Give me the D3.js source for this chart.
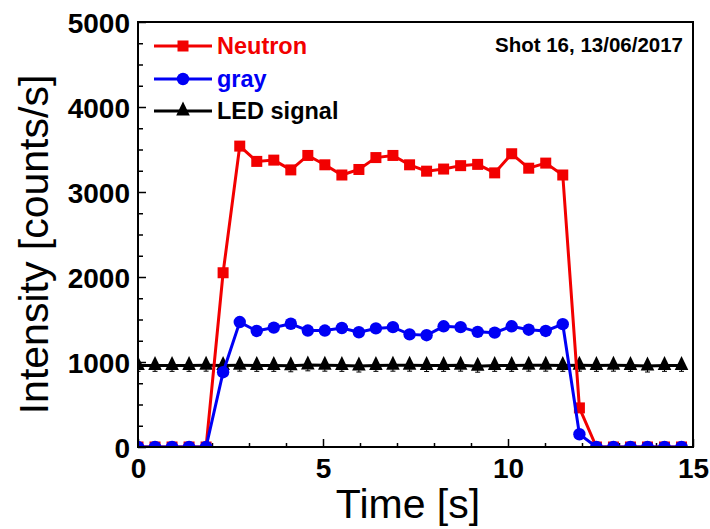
<!DOCTYPE html>
<html>
<head>
<meta charset="utf-8">
<script src="https://cdn.jsdelivr.net/npm/d3@7"></script>
<style>
  html, body { margin: 0; padding: 0; background: #fff; }
  svg { display: block; }
</style>
</head>
<body>
<div id="chart"></div>
<script>
// ---------------- data ----------------
const times = [0, 0.46, 0.92, 1.38, 1.84, 2.30, 2.75, 3.21, 3.67, 4.13, 4.59, 5.05, 5.51,
  5.97, 6.43, 6.89, 7.34, 7.80, 8.26, 8.72, 9.18, 9.64, 10.10, 10.56, 11.02, 11.48,
  11.93, 12.39, 12.85, 13.31, 13.77, 14.23, 14.69];
const neutron = [0, 0, 0, 0, 0, 2050, 3540, 3360, 3375, 3260, 3430, 3320, 3200,
  3265, 3405, 3430, 3320, 3245, 3270, 3310, 3325, 3225, 3450, 3280, 3340, 3200,
  460, 0, 0, 0, 0, 0, 0];
const gray = [0, 0, 0, 0, 0, 880, 1470, 1365, 1405, 1450, 1370, 1370, 1400,
  1350, 1395, 1410, 1325, 1315, 1420, 1410, 1355, 1345, 1420, 1380, 1365, 1445,
  150, 0, 0, 0, 0, 0, 0];
const led = [960, 960, 960, 960, 962, 960, 962, 960, 960, 955, 966, 962, 960,
  952, 960, 962, 962, 958, 960, 962, 950, 960, 960, 962, 962, 960,
  962, 960, 962, 960, 952, 960, 960];
const ledError = 70;
const xMajorTicks = [0, 5, 10, 15];
const xMinorTicks = [1, 2, 3, 4, 6, 7, 8, 9, 11, 12, 13, 14];
const yMajorTicks = [0, 1000, 2000, 3000, 4000, 5000];
const yMinorTicks = [250, 500, 750, 1250, 1500, 1750, 2250, 2500, 2750, 3250, 3500, 3750, 4250, 4500, 4750];
const seriesNames = ["Neutron", "gray", "LED signal"];
const annotation = "Shot 16, 13/06/2017";
const xTitle = "Time [s]";
const yTitle = "Intensity [counts/s]";

// ---------------- layout ----------------
const W = 710, H = 529;
const L = 138, R = 693, T = 22, B = 447;
const RED = "#f20000", BLUE = "#0000f5", BLACK = "#000";
const FONT = "'Liberation Sans', Arial, Helvetica, sans-serif";

const svg = d3.select("#chart").append("svg").attr("width", W).attr("height", H);

const x = d3.scaleLinear().domain([0, 15]).range([L, R]);
const y = d3.scaleLinear().domain([0, 5000]).range([B, T]);

svg.append("defs").append("clipPath").attr("id", "plotclip")
  .append("rect").attr("x", L).attr("y", T).attr("width", R - L).attr("height", B - T);

// axes ticks (inward)
const gx = svg.append("g").attr("transform", `translate(0,${B})`);
gx.call(d3.axisBottom(x).tickValues(xMajorTicks).tickSize(-8).tickPadding(11).tickFormat(d3.format("d")));
const gxm = svg.append("g").attr("transform", `translate(0,${B})`);
gxm.call(d3.axisBottom(x).tickValues(xMinorTicks).tickSize(-4).tickFormat(""));
const gy = svg.append("g").attr("transform", `translate(${L},0)`);
gy.call(d3.axisLeft(y).tickValues(yMajorTicks).tickSize(-8).tickPadding(8).tickFormat(d3.format("d")));
const gym = svg.append("g").attr("transform", `translate(${L},0)`);
gym.call(d3.axisLeft(y).tickValues(yMinorTicks).tickSize(-5).tickFormat(""));

[gx, gxm, gy, gym].forEach(g => {
  g.select(".domain").remove();
  g.selectAll(".tick line").attr("stroke", BLACK).attr("stroke-width", 1.5);
  g.selectAll(".tick text").attr("fill", BLACK).attr("font-family", FONT)
    .attr("font-weight", "bold").attr("font-size", 28);
});
gy.selectAll(".tick text").attr("dy", "0.36em");

// data
const idx = d3.range(times.length);
const plot = svg.append("g").attr("clip-path", "url(#plotclip)");

// LED signal
const ledLine = d3.line().x(i => x(times[i])).y(i => y(led[i]));
plot.append("g").selectAll("path.err").data(idx).join("path")
  .attr("d", i => {
    const cx = x(times[i]), y1 = y(led[i]), y2 = y(led[i] - ledError);
    return `M${cx},${y1}V${y2}M${cx - 2.5},${y2}H${cx + 2.5}`;
  })
  .attr("stroke", BLACK).attr("stroke-width", 1).attr("fill", "none");
plot.append("path").attr("d", ledLine(idx)).attr("fill", "none")
  .attr("stroke", BLACK).attr("stroke-width", 3);
const triPath = "M0,-9.5L6.8,4.5L-6.8,4.5Z";
plot.append("g").selectAll("path.tri").data(idx).join("path")
  .attr("d", triPath)
  .attr("transform", i => `translate(${x(times[i])},${y(led[i])})`)
  .attr("fill", BLACK);

// Neutron
const nLine = d3.line().x(i => x(times[i])).y(i => y(neutron[i]));
plot.append("path").attr("d", nLine(idx)).attr("fill", "none")
  .attr("stroke", RED).attr("stroke-width", 3);
plot.append("g").selectAll("rect").data(idx).join("rect")
  .attr("x", i => x(times[i]) - 5.5).attr("y", i => y(neutron[i]) - 5.5)
  .attr("width", 11).attr("height", 11).attr("fill", RED);

// gray
const gLine = d3.line().x(i => x(times[i])).y(i => y(gray[i]));
plot.append("path").attr("d", gLine(idx)).attr("fill", "none")
  .attr("stroke", BLUE).attr("stroke-width", 3);
plot.append("g").selectAll("circle").data(idx).join("circle")
  .attr("cx", i => x(times[i])).attr("cy", i => y(gray[i])).attr("r", 6.2)
  .attr("fill", BLUE);

// frame
svg.append("rect").attr("x", L).attr("y", T).attr("width", R - L).attr("height", B - T)
  .attr("fill", "none").attr("stroke", BLACK).attr("stroke-width", 2);

// legend
const legendY = [46, 79, 111];
const colors = [RED, BLUE, BLACK];
const lg = svg.append("g");
seriesNames.forEach((name, k) => {
  const ly = legendY[k];
  lg.append("line").attr("x1", 154).attr("x2", 212).attr("y1", ly).attr("y2", ly)
    .attr("stroke", colors[k]).attr("stroke-width", 3);
  if (k === 0) lg.append("rect").attr("x", 183 - 5.5).attr("y", ly - 5.5)
    .attr("width", 11).attr("height", 11).attr("fill", RED);
  if (k === 1) lg.append("circle").attr("cx", 183).attr("cy", ly).attr("r", 6.2).attr("fill", BLUE);
  if (k === 2) lg.append("path").attr("d", triPath).attr("transform", `translate(183,${ly})`).attr("fill", BLACK);
  lg.append("text").attr("x", 217).attr("y", ly).attr("dy", "0.36em")
    .attr("font-family", FONT).attr("font-weight", "bold").attr("font-size", 23.5)
    .attr("fill", colors[k]).text(name);
});

svg.append("text").attr("x", 683).attr("y", 45).attr("dy", "0.36em")
  .attr("text-anchor", "end").attr("font-family", FONT).attr("font-weight", "bold")
  .attr("font-size", 20.5).attr("fill", BLACK).text(annotation);

// titles
svg.append("text").attr("x", 408).attr("y", 518).attr("text-anchor", "middle")
  .attr("font-family", FONT).attr("font-size", 41).attr("fill", BLACK).text(xTitle);
svg.append("text").attr("transform", `translate(48,${(T + B) / 2 + 10}) rotate(-90)`)
  .attr("text-anchor", "middle").attr("font-family", FONT).attr("font-size", 41)
  .attr("fill", BLACK).text(yTitle);
</script>
</body>
</html>
